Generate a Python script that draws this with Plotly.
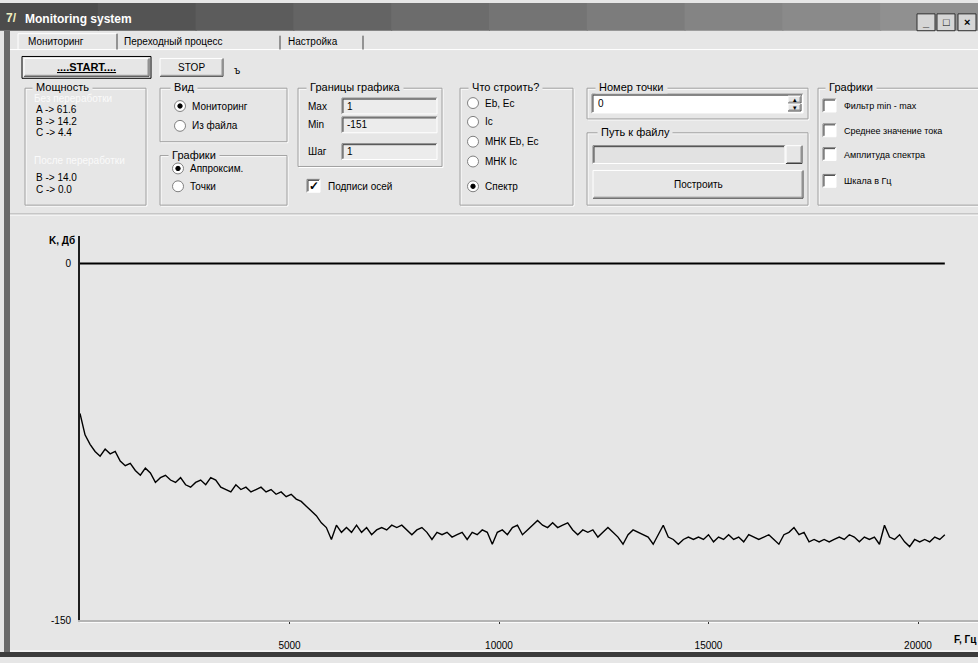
import plotly.graph_objects as go

# ---------------- data ----------------
freq_start_hz = 0
freq_step_hz = 120
spectrum_db = [
    -63, -72, -76, -79, -81, -78, -80, -79, -83, -85,
    -84, -87, -89, -86, -88, -92, -90, -89, -91, -92,
    -90, -93, -94, -92, -91, -93, -90, -91, -94, -95,
    -96, -93, -95, -94, -96, -95, -94, -96, -95, -97,
    -96, -98, -97, -99, -100, -102, -104, -106, -109, -111,
    -116, -110, -113, -111, -113, -110, -113, -111, -114, -112,
    -111, -112, -110, -111, -110, -112, -114, -112, -111, -113,
    -116, -113, -114, -113, -115, -114, -113, -116, -113, -114,
    -112, -113, -118, -113, -112, -114, -111, -110, -114, -112,
    -110, -108, -110, -111, -109, -111, -110, -109, -112, -114,
    -112, -113, -112, -115, -113, -111, -113, -115, -118, -114,
    -112, -113, -114, -115, -118, -114, -110, -115, -116, -118,
    -116, -115, -116, -115, -116, -114, -117, -115, -116, -114,
    -116, -115, -117, -114, -115, -116, -115, -114, -116, -118,
    -114, -113, -111, -114, -113, -117, -116, -117, -116, -117,
    -116, -115, -116, -114, -115, -117, -115, -116, -115, -118,
    -110, -115, -116, -114, -117, -119, -116, -117, -116, -117,
    -115, -116, -114,
]
reference_db = [0, 0]
x_tick_vals = [5000, 10000, 15000, 20000]
x_tick_text = ["5000", "10000", "15000", "20000"]
y_tick_vals = [0, -150]
y_tick_text = ["0", "-150"]

# ---------------- helpers (pixel -> paper) ----------------
W, H = 978, 663
BG = "#e6e6e6"
FONT = "Liberation Sans, Arial, sans-serif"
shapes, annos = [], []


def px(x):
    return x / W


def py(y):
    return 1 - y / H


def rect(x0, y0, x1, y1, fill=None, line=None, lw=1):
    shapes.append(dict(type="rect", xref="paper", yref="paper",
                       x0=px(x0), x1=px(x1), y0=py(y1), y1=py(y0),
                       fillcolor=fill if fill else "rgba(0,0,0,0)",
                       line=dict(color=line if line else "rgba(0,0,0,0)", width=lw if line else 0),
                       layer="below"))


def seg(x0, y0, x1, y1, color, lw=1):
    shapes.append(dict(type="line", xref="paper", yref="paper",
                       x0=px(x0), x1=px(x1), y0=py(y0), y1=py(y1),
                       line=dict(color=color, width=lw), layer="below"))


def circle(cx, cy, r, fill, line):
    shapes.append(dict(type="circle", xref="paper", yref="paper",
                       x0=px(cx - r), x1=px(cx + r), y0=py(cy + r), y1=py(cy - r),
                       fillcolor=fill, line=dict(color=line, width=1), layer="below"))


def text(x, y, s, size=11, color="black", anchor="left", bold=False, bg=None):
    if bold:
        s = "<b>" + s + "</b>"
    a = dict(xref="paper", yref="paper", x=px(x), y=py(y), text=s, showarrow=False,
             xanchor=anchor, yanchor="middle", borderpad=0,
             font=dict(family=FONT, size=size, color=color))
    if bg:
        a["bgcolor"] = bg
    annos.append(a)


def group(x0, y0, x1, y1, title, tx):
    rect(x0 + 1, y0 + 1, x1 + 1, y1 + 1, line="#ffffff")
    rect(x0, y0, x1, y1, line="#a0a0a0")
    text(tx, y0 - 1, "&nbsp;" + title + "&nbsp;", size=11, bg=BG)


def raised(x0, y0, x1, y1, fill=BG):
    rect(x0, y0, x1, y1, fill=fill)
    seg(x0, y0, x1, y0, "#ffffff")
    seg(x0, y0, x0, y1, "#ffffff")
    seg(x0, y1, x1, y1, "#404040")
    seg(x1, y0, x1, y1, "#404040")
    seg(x0 + 1, y1 - 1, x1 - 1, y1 - 1, "#909090")
    seg(x1 - 1, y0 + 1, x1 - 1, y1 - 1, "#909090")


def sunken(x0, y0, x1, y1, fill="#ffffff"):
    rect(x0, y0, x1, y1, fill=fill)
    seg(x0, y0, x1, y0, "#808080")
    seg(x0, y0, x0, y1, "#808080")
    seg(x0 + 1, y0 + 1, x1 - 1, y0 + 1, "#404040")
    seg(x0 + 1, y0 + 1, x0 + 1, y1 - 1, "#404040")
    seg(x0, y1, x1, y1, "#ffffff")
    seg(x1, y0, x1, y1, "#ffffff")


def radio(cx, cy, label, checked=False, size=11):
    circle(cx, cy, 5.5, "#ffffff", "#808080")
    if checked:
        circle(cx, cy, 2.2, "#000000", "#000000")
    text(cx + 11, cy, label, size=size)


def checkbox(x, y, label, checked=False, size=11):
    sunken(x, y - 7, x + 13, y + 6)
    if checked:
        text(x + 6.5, y, "✓", size=12, anchor="center", bold=True)
    text(x + 20, y, label, size=size)


# ---------------- window chrome ----------------
rect(0, 0, W, H, fill=BG)
bar_cols = ["#4c4c4c", "#545454", "#5c5c5c", "#646464", "#6c6c6c", "#747474",
            "#7c7c7c", "#848484", "#8a8a8a", "#909090"]
for k, c in enumerate(bar_cols):
    rect(k * W / len(bar_cols), 3, (k + 1) * W / len(bar_cols) + 1, 31, fill=c)
text(5, 18, "7/", size=12, color="#f0f0c0", bold=True)
text(24, 19, "Monitoring system", size=12, color="#ffffff", bold=True)
for bx, g in [(917, "_"), (937, "□"), (958, "×")]:
    rect(bx, 14, bx + 18, 31, fill="#d6d6d6", line="#303030")
    text(bx + 9, 22.5, g, size=11, anchor="center", bold=True)
rect(4, 31, 10, H, fill="#6a6a6a")
rect(0, 658, W, H, fill="#3c3c3c")
seg(10, 657, W, 657, "#ffffff")

# tabs
seg(10, 50, W, 50, "#ffffff")
seg(18, 34, 117, 34, "#ffffff")
seg(18, 34, 18, 50, "#ffffff")
seg(117, 34, 117, 50, "#404040")
seg(280, 36, 280, 50, "#404040")
seg(363, 36, 363, 50, "#404040")
text(27, 42, "Мониторинг", size=10)
text(123, 42, "Переходный процесс", size=10)
text(287, 42, "Настройка", size=10)

# buttons row
rect(22, 57, 151, 79, fill=BG, line="#000000", lw=1)
raised(24, 59, 149, 77)
text(86, 68, "<u>....START....</u>", size=11, anchor="center", bold=True)
raised(160, 59, 223, 77)
text(191, 68, "STOP", size=10, anchor="center")
text(233, 71, "ъ", size=10)

# group: Мощность
group(25, 89, 146, 207, "Мощность", 32)
text(33, 99, "Без переработки", size=10, color="#fafafa")
text(35, 111, "A -> 61.6", size=10)
text(35, 123, "B -> 14.2", size=10)
text(35, 134, "C -> 4.4", size=10)
text(33, 162, "После переработки", size=10, color="#fafafa")
text(35, 179, "B -> 14.0", size=10)
text(35, 191, "C -> 0.0", size=10)

# group: Вид
group(160, 89, 287, 143, "Вид", 170)
radio(180, 107, "Мониторинг", True, size=10)
radio(180, 127, "Из файла", size=10)

# group: Графики (middle)
group(160, 157, 287, 207, "Графики", 168)
radio(178, 170, "Аппроксим.", True, size=10)
radio(178, 188, "Точки", size=10)

# group: Границы графика
group(298, 89, 442, 168, "Границы графика", 306)
text(307, 107, "Max", size=10)
sunken(342, 99, 437, 115, fill="#ececec")
text(346, 107, "1", size=10)
text(307, 126, "Min", size=10)
sunken(342, 118, 437, 134, fill="#ececec")
text(346, 126, "-151", size=10)
text(307, 153, "Шаг", size=10)
sunken(342, 145, 437, 161, fill="#ececec")
text(346, 153, "1", size=10)
checkbox(307, 188, "Подписи осей", True, size=10)

# group: Что строить?
group(460, 89, 573, 207, "Что строить?", 468)
radio(473, 104, "Eb, Ec", size=10)
radio(473, 123, "Ic", size=10)
radio(473, 143, "МНК Eb, Ec", size=10)
radio(473, 163, "МНК Ic", size=10)
radio(473, 188, "Спектр", True, size=10)

# group: Номер точки
group(587, 89, 808, 120, "Номер точки", 595)
sunken(592, 95, 803, 114)
text(597, 104.5, "0", size=10)
raised(788, 97, 801, 104)
raised(788, 105, 801, 112)
text(794.5, 100.5, "▴", size=7, anchor="center")
text(794.5, 108.5, "▾", size=7, anchor="center")

# group: Путь к файлу
group(587, 134, 808, 207, "Путь к файлу", 597)
sunken(593, 147, 785, 165, fill="#e2e2e2")
raised(786, 147, 802, 165)
raised(593, 172, 803, 200)
text(698, 186, "Построить", size=10, anchor="center")

# group: Графики (right)
group(818, 89, 990, 207, "Графики", 825)
checkbox(823, 107, "Фильтр min - max", size=9)
checkbox(823, 132, "Среднее значение тока", size=9)
checkbox(823, 156, "Амплитуда спектра", size=9)
checkbox(823, 183, "Шкала в Гц", size=9)

# separator above chart panel
seg(10, 216, W, 216, "#a0a0a0")
seg(10, 217, W, 217, "#ffffff")
seg(80, 628, W, 628, "#ffffff")

# axis titles
text(76, 243, "K, Дб", size=10, anchor="right", bold=True)
text(953, 645, "F, Гц", size=10, bold=True)

# ---------------- figure ----------------
n = len(spectrum_db)
freq_end_hz = freq_start_hz + freq_step_hz * (n - 1)

fig = go.Figure()
fig.add_trace(go.Scatter(x=[freq_start_hz, freq_end_hz], y=reference_db, mode="lines",
                         line=dict(color="#000000", width=2), hoverinfo="skip",
                         showlegend=False))
fig.add_trace(go.Scatter(x0=freq_start_hz, dx=freq_step_hz, y=spectrum_db, mode="lines",
                         line=dict(color="#000000", width=1.4), hoverinfo="skip",
                         showlegend=False))

x_lo = 80
x_hi = 978
px_per_hz = 209.5 / 5000
y_top, y_bot = 238, 626
px_per_db = 2.4

fig.update_layout(
    width=W, height=H, autosize=False,
    margin=dict(l=0, r=0, t=0, b=0, pad=0),
    paper_bgcolor=BG, plot_bgcolor="rgba(0,0,0,0)",
    font=dict(family=FONT, size=10, color="#000000"),
    shapes=shapes, annotations=annos,
    xaxis=dict(domain=[x_lo / W, x_hi / W],
               range=[0, (x_hi - x_lo) / px_per_hz],
               showgrid=False, zeroline=False, showline=True,
               linecolor="#b4b4b4", linewidth=2,
               ticks="outside", ticklen=2, tickwidth=1, tickcolor="#333333",
               tickvals=x_tick_vals, ticktext=x_tick_text,
               ticklabelstandoff=13,
               tickfont=dict(family=FONT, size=10, color="#000000")),
    yaxis=dict(domain=[1 - y_bot / H, 1 - y_top / H],
               range=[-150, (266 - y_top) / px_per_db],
               showgrid=False, zeroline=False, showline=True,
               linecolor="#1e1e1e", linewidth=2, ticks="",
               tickvals=y_tick_vals, ticktext=y_tick_text,
               ticklabelstandoff=5,
               tickfont=dict(family=FONT, size=10, color="#000000")),
)

fig.write_html("out.html",
               config={"displayModeBar": False, "staticPlot": True},
               post_script="document.body.style.margin='0';document.body.style.overflow='hidden';")
